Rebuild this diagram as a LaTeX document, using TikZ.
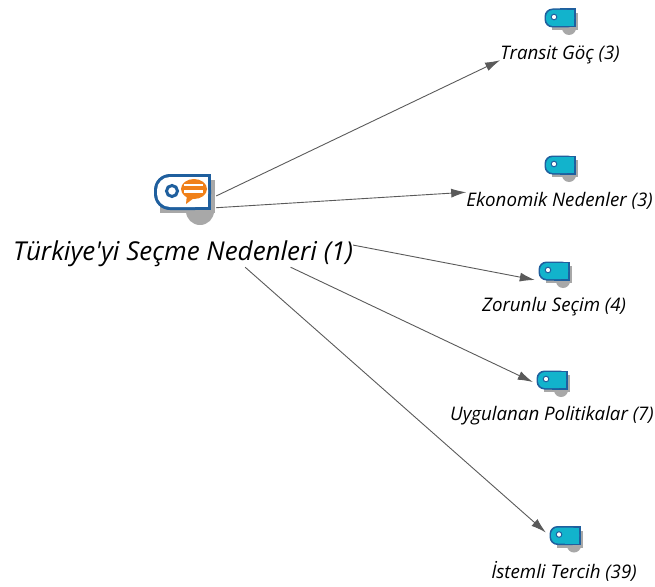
\documentclass[tikz,border=0pt]{standalone}
\usepackage{fontspec}
\setmainfont{Open Sans}
\usetikzlibrary{arrows.meta}
\definecolor{tagblue}{HTML}{1F5F9E}
\definecolor{tagteal}{HTML}{12B3CC}
\definecolor{tagorange}{HTML}{F08019}
\definecolor{tagshadow}{HTML}{A8A8A8}
\definecolor{linkgray}{HTML}{5A5A5A}
\tikzset{
  link/.style={draw=linkgray,line width=0.9pt,-{Latex[length=15pt,width=9pt]}},
  codelabel/.style={inner sep=0pt,font=\itshape\fontsize{18.7}{22}\selectfont},
  mainlabel/.style={inner sep=0pt,font=\itshape\fontsize{26}{30}\selectfont},
  codeanchor/.style={inner sep=0pt,minimum width=38pt,minimum height=24pt},
  mainanchor/.style={inner sep=0pt,minimum width=61pt,minimum height=36pt},
  codetag/.pic={
    \fill[tagshadow] (-8,-5) rectangle (18,12);
    \fill[tagshadow] (9,10) circle (7);
    \fill[tagblue,rounded corners=8pt] (-15.5,-9.5) rectangle (15.5,9.5);
    \fill[tagblue] (0,-9.5) rectangle (15.5,9.5);
    \fill[tagteal,rounded corners=7pt] (-14,-8) rectangle (14,8);
    \fill[tagteal] (0,-8) rectangle (14,8);
    \fill[white,draw=tagblue,line width=1pt] (-6,-1) circle (2.8);
  },
  speechtag/.pic={
    \fill[tagshadow] (-24,-10) rectangle (31,23);
    \fill[tagshadow] (16,21) circle (14);
    \fill[tagblue,rounded corners=16pt] (-30,-16) rectangle (27,20);
    \fill[tagblue] (0,-16) rectangle (27,20);
    \fill[white,rounded corners=13pt] (-27,-13) rectangle (24,17);
    \fill[white] (0,-13) rectangle (24,17);
    \draw[tagblue,line width=3pt] (-12,1) circle (5.5);
    \fill[tagorange] (2,14) -- (3,4) -- (10,8) -- cycle;
    \fill[tagorange] (10,-1) ellipse (13 and 10);
    \fill[white] (0,-6.5) rectangle (19,-4);
    \fill[white] (0,0) rectangle (19,2.5);
  }
}
\begin{document}
\begin{tikzpicture}[x=1pt,y=-1pt]
  \useasboundingbox (0,0) rectangle (655,586);

  \pic at (184,190) {speechtag};
  \pic at (560,18) {codetag};
  \pic at (560,165) {codetag};
  \pic at (554,271) {codetag};
  \pic at (552,380) {codetag};
  \pic at (565,535.5) {codetag};

  \node[mainanchor] (main) at (185.5,190) {};
  \node[codeanchor] (zorunluicon) at (554,271) {};
  \node[codeanchor] (politikaicon) at (552,380) {};
  \node[codeanchor] (istemliicon) at (565,535.5) {};

  \node[mainlabel] (nedenler) at (183,254) {Türkiye\textquotesingle{}yi Seçme Nedenleri (1)};
  \node[codelabel] (transit) at (560,55) {Transit Göç (3)};
  \node[codelabel] (ekonomik) at (559.5,201) {Ekonomik Nedenler (3)};
  \node[codelabel] (zorunlu) at (554,307) {Zorunlu Seçim (4)};
  \node[codelabel] (politika) at (552,416) {Uygulanan Politikalar (7)};
  \node[codelabel] (istemli) at (564,571) {İstemli Tercih (39)};

  \draw[link] (main.-11) to (transit.185);
  \draw[link] (main.-30) to (ekonomik.north west);
  \draw[link] (nedenler.3.4) to (zorunluicon.205);
  \draw[link] (nedenler.-7.8) to (politikaicon.186);
  \draw[link] (nedenler.-12.6) to (istemliicon.171);
\end{tikzpicture}
\end{document}
